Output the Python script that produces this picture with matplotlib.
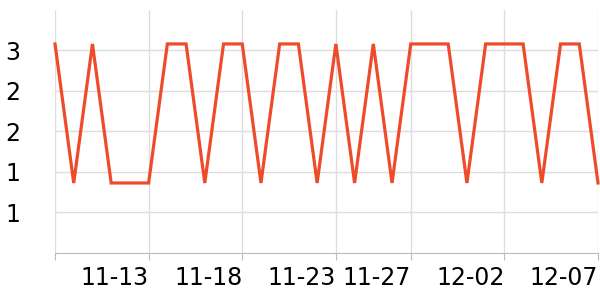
import numpy as np
import pandas as pd
import matplotlib
matplotlib.use("Agg")
import matplotlib.pyplot as plt
import matplotlib.dates as mdates
from matplotlib.ticker import FuncFormatter

# daily values, 11-08 .. 12-07
hi = 3.08
lo = 1.36
dates = pd.date_range("2023-11-08", "2023-12-07", freq="D")
values = [hi, lo, hi, lo, lo, lo, hi, hi, lo, hi,
          hi, lo, hi, hi, lo, hi, lo, hi, lo, hi,
          hi, hi, lo, hi, hi, hi, lo, hi, hi, lo]

tick_dates = pd.to_datetime(["2023-11-08", "2023-11-13", "2023-11-18", "2023-11-23",
                             "2023-11-27", "2023-12-02", "2023-12-07"])
tick_labels = ["", "11-13", "11-18", "11-23", "11-27", "12-02", "12-07"]
y_ticks = [1.0, 1.5, 2.0, 2.5, 3.0]

fig = plt.figure(figsize=(6, 3), dpi=100)
ax = fig.add_axes([55 / 600, 47.5 / 300, 543 / 600, 242.5 / 300])

ax.plot(dates, values, color="#ee4b2b", lw=2.3, solid_joinstyle="miter", clip_on=False, zorder=3)

ax.set_xlim(dates[0], dates[-1])
ax.set_ylim(0.5, 3.5)
ax.set_xticks(tick_dates)
ax.set_xticklabels(tick_labels, ha="right", fontsize=17)
ax.set_yticks(y_ticks)
ax.yaxis.set_major_formatter(FuncFormatter(lambda v, p: str(int(v))))

ax.grid(True, color="#dddddd", lw=1)
ax.set_axisbelow(True)
for s in ["top", "right", "left"]:
    ax.spines[s].set_visible(False)
ax.spines["bottom"].set_color("#bbbbbb")
ax.tick_params(axis="x", length=5, color="#bbbbbb", pad=5)
ax.tick_params(axis="y", length=0, pad=25, labelsize=17)

fig.savefig("out.png")
